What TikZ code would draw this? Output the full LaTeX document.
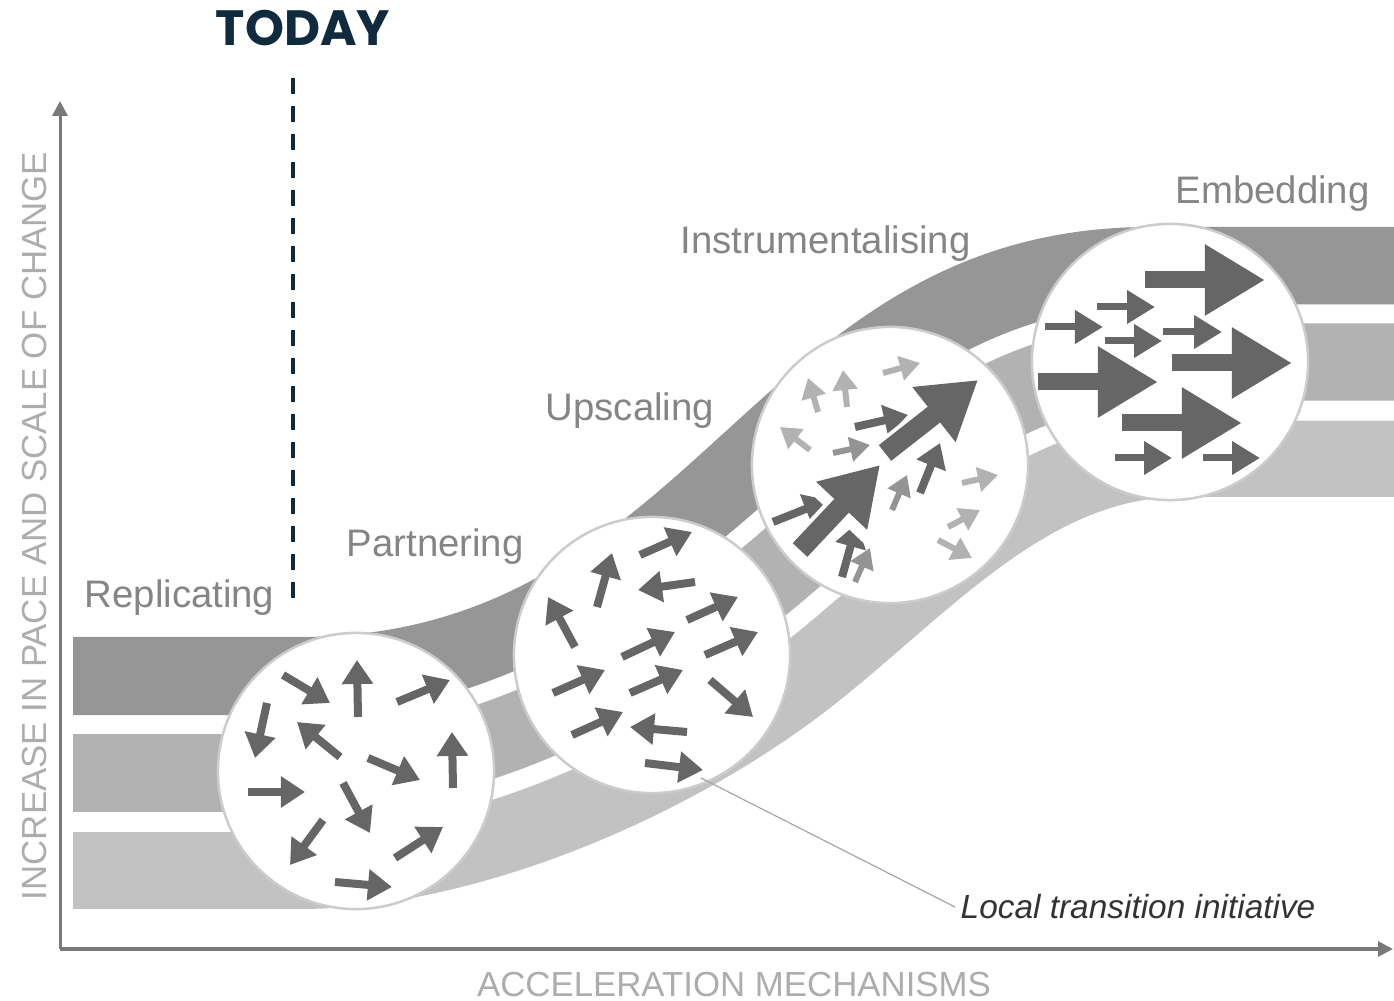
\documentclass[tikz,border=0pt]{standalone}
\usepackage{fontspec}
\setmainfont{Liberation Sans}
\newfontfamily\popfont{Poppins}
\usetikzlibrary{arrows.meta,calc}
\definecolor{bandA}{gray}{0.59}
\definecolor{bandB}{gray}{0.70}
\definecolor{bandC}{gray}{0.76}
\definecolor{adk}{gray}{0.40}
\definecolor{amd}{gray}{0.58}
\definecolor{alt}{gray}{0.70}
\definecolor{lblc}{gray}{0.52}
\definecolor{axc}{gray}{0.47}
\definecolor{axl}{gray}{0.68}
\definecolor{navy}{HTML}{0F2B3D}
\newcommand{\stripe}[3]{%
\fill[#1] (73,{637+272*#2}) -- ($(T0)!#2!(B0)$) .. controls ($(T1)!#2!(B1)$) and ($(T2)!#2!(B2)$) .. ($(T3)!#2!(B3)$) .. controls ($(T4)!#2!(B4)$) and ($(T5)!#2!(B5)$) .. ($(T6)!#2!(B6)$) -- (1394,{227+270*#2}) -- (1394,{227+270*#3}) -- ($(T6)!#3!(B6)$) .. controls ($(T5)!#3!(B5)$) and ($(T4)!#3!(B4)$) .. ($(T3)!#3!(B3)$) .. controls ($(T2)!#3!(B2)$) and ($(T1)!#3!(B1)$) .. ($(T0)!#3!(B0)$) -- (73,{637+272*#3}) -- cycle;}
\tikzset{
 lbl/.style={font=\fontsize{10.9}{12}\selectfont, text=lblc, inner sep=0},
 axlbl/.style={font=\fontsize{9.9}{11}\selectfont, text=axl, inner sep=0},
 circ/.style={circle, fill=white, draw=gray!40, line width=0.025cm, minimum size=2.76cm, inner sep=0},
 sar/.style={draw=adk, line width=0.08cm, -{Triangle[width=0.30cm,length=0.24cm]}},
 tar/.style={line width=0.06cm, -{Triangle[width=0.24cm,length=0.20cm]}},
 bigw/.style={draw=white, line width=0.28cm, -{Triangle[width=0.80cm,length=0.68cm]}},
 bigd/.style={draw=adk, line width=0.20cm, -{Triangle[width=0.66cm,length=0.56cm]}},
 emb/.style={draw=adk, line width=0.17cm, -{Triangle[width=0.67cm,length=0.60cm]}},
 ems/.style={draw=adk, line width=0.07cm, -{Triangle[width=0.32cm,length=0.28cm]}},
 axis/.style={draw=axc, line width=0.03cm, -{Triangle[width=0.15cm,length=0.15cm]}},
}
\begin{document}
\begin{tikzpicture}[x=0.01cm,y=-0.01cm]
\useasboundingbox (0,0) rectangle (1394,1001);
\fill[white] (0,0) rectangle (1394,1001);
% band geometry: top edge T, bottom edge B
\coordinate (T0) at (300,637);
\coordinate (T1) at (500,637);
\coordinate (T2) at (612.5,534.5);
\coordinate (T3) at (725,432);
\coordinate (T4) at (837.5,329.5);
\coordinate (T5) at (950,227);
\coordinate (T6) at (1150,227);
\coordinate (B0) at (300,909);
\coordinate (B1) at (470,909);
\coordinate (B2) at (690,820);
\coordinate (B3) at (840,700);
\coordinate (B4) at (950,612);
\coordinate (B5) at (1050,497);
\coordinate (B6) at (1180,497);
\stripe{bandA}{0}{0.287}
\stripe{bandB}{0.357}{0.643}
\stripe{bandC}{0.717}{1}
% axes
\coordinate (O) at (60,949);
\coordinate (ytop) at (60,101);
\coordinate (xend) at (1393,949);
\draw[axis] (O) -- (ytop);
\draw[axis] (O) -- (xend);
\node[axlbl, rotate=90] (ylab) at (35,526) {INCREASE IN PACE AND SCALE OF CHANGE};
\node[axlbl] (xlab) at (734,985) {ACCELERATION MECHANISMS};
% today
\node[font=\popfont\bfseries\fontsize{14.1}{16}\selectfont, text=navy, inner sep=0] (today) at (303,28) {TODAY};
\coordinate (dtop) at (293,78);
\coordinate (dbot) at (293,598);
\draw[navy, line width=0.04cm, dash pattern=on 0.16cm off 0.12cm] (dtop) -- (dbot);
% circles
\node[circ] (c1) at (356,771) {};
\node[circ] (c2) at (652,655) {};
\node[circ] (c3) at (890,465) {};
\node[circ] (c4) at (1170,362) {};
% circle 1 arrows
\draw[sar] (283,675) -- (330,703);
\draw[sar] (358,717) -- (357,660);
\draw[sar] (397,702) -- (450,680);
\draw[sar] (267,703) -- (255,758);
\draw[sar] (340,757) -- (297,722);
\draw[sar] (368,758) -- (420,780);
\draw[sar] (453,788) -- (452,732);
\draw[sar] (248,792) -- (305,792);
\draw[sar] (343,783) -- (370,833);
\draw[sar] (323,820) -- (290,865);
\draw[sar] (395,858) -- (443,827);
\draw[sar] (335,882) -- (392,887);
% circle 2 arrows
\draw[sar] (640,555) -- (692,532);
\draw[sar] (597,607) -- (612,553);
\draw[sar] (695,582) -- (638,590);
\draw[sar] (575,647) -- (548,597);
\draw[sar] (687,620) -- (738,597);
\draw[sar] (622,657) -- (675,632);
\draw[sar] (705,655) -- (758,632);
\draw[sar] (553,693) -- (605,670);
\draw[sar] (630,693) -- (683,670);
\draw[sar] (710,680) -- (753,717);
\draw[sar] (572,735) -- (623,712);
\draw[sar] (687,732) -- (630,727);
\draw[sar] (645,763) -- (703,770);
% circle 3 arrows
\draw[tar, draw=alt] (818,412) -- (808,378);
\draw[tar, draw=alt] (847,407) -- (843,370);
\draw[tar, draw=alt] (883,373) -- (920,363);
\draw[tar, draw=alt] (810,450) -- (780,427);
\draw[tar, draw=amd] (833,453) -- (870,445);
\draw[tar, draw=amd] (892,510) -- (907,475);
\draw[tar, draw=alt] (962,483) -- (998,475);
\draw[tar, draw=alt] (948,527) -- (980,510);
\draw[tar, draw=alt] (938,540) -- (972,558);
\draw[tar, draw=amd] (855,582) -- (870,548);
\draw[sar] (855,427) -- (908,415);
\draw[sar] (920,493) -- (940,443);
\draw[sar] (773,522) -- (828,500);
\draw[sar] (842,577) -- (857,523);
\draw[bigw] (798,552) -- (880,465);
\draw[bigd] (800,550) -- (880,465);
\draw[bigw] (883,455) -- (978,380);
\draw[bigd] (885,453) -- (978,380);
% circle 4 arrows
\draw[emb] (1145,280) -- (1265,280);
\draw[ems] (1097,307) -- (1155,307);
\draw[ems] (1045,327) -- (1103,327);
\draw[ems] (1105,341) -- (1162,341);
\draw[ems] (1163,332) -- (1222,332);
\draw[emb] (1172,363) -- (1292,363);
\draw[emb] (1038,382) -- (1158,382);
\draw[emb] (1122,423) -- (1242,423);
\draw[ems] (1115,458) -- (1172,458);
\draw[ems] (1203,458) -- (1260,458);
% labels
\node[lbl, anchor=west] (rep) at (84,598) {Replicating};
\node[lbl, anchor=west] (par) at (346,547) {Partnering};
\node[lbl, anchor=west] (ups) at (545,411) {Upscaling};
\node[lbl, anchor=west] (ins) at (680,244) {Instrumentalising};
\node[lbl, anchor=west] (embl) at (1175,194) {Embedding};
% pointer
\node[font=\itshape\fontsize{9.5}{11}\selectfont, text=black!80, inner sep=0.05cm, anchor=west] (lti) at (955,907) {Local transition initiative};
\coordinate (ptr) at (701,778);
\draw[gray!70, line width=0.012cm] (ptr) -- (lti.west);
\end{tikzpicture}
\end{document}
